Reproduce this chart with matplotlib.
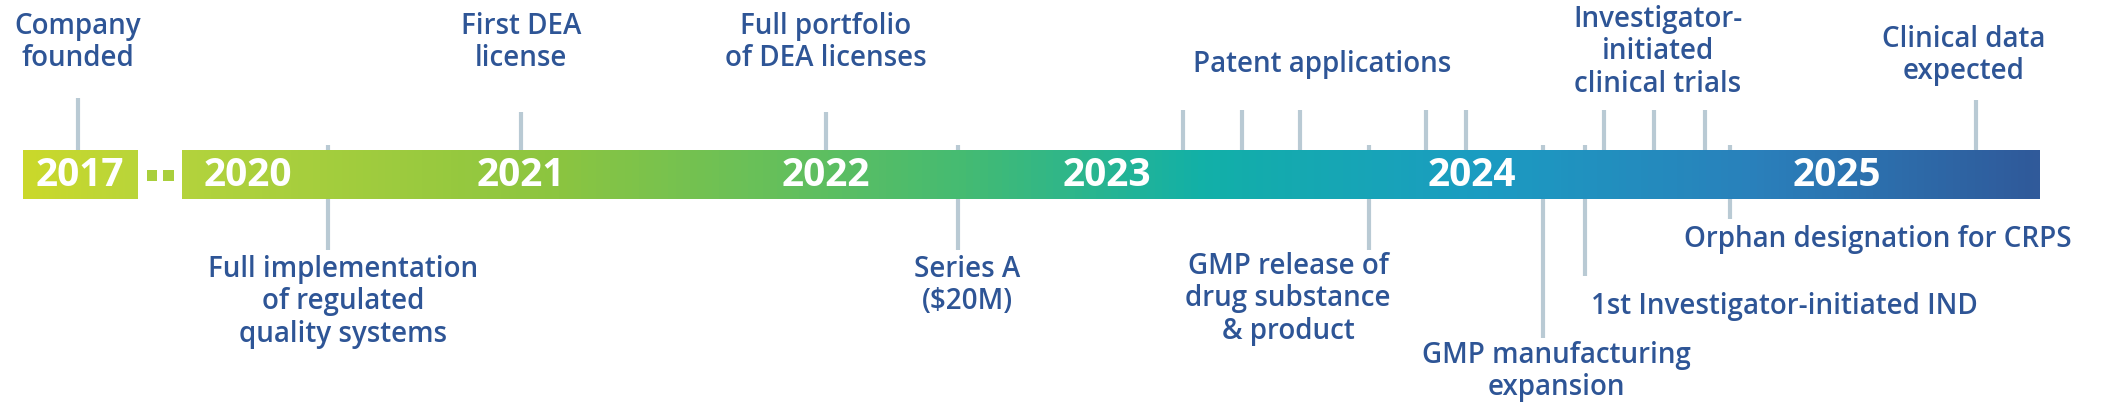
import matplotlib
matplotlib.use("Agg")
import matplotlib.pyplot as plt
import numpy as np
from matplotlib.colors import LinearSegmentedColormap

W, H = 2117, 413
TXT = "#2e5596"
TICK = "#b9cad4"
FONT = "Open Sans"

years = ["2020", "2021", "2022", "2023", "2024", "2025"]
year_x = [248, 521, 826, 1107, 1472, 1837]

# events above the bar: (label lines, tick positions, text center x, first line y, tick top)
above_labels = ["Company\nfounded", "First DEA\nlicense", "Full portfolio\nof DEA licenses",
                "Patent applications", "Investigator-\ninitiated\nclinical trials", "Clinical data\nexpected"]
above_ticks = [[78], [521], [826], [1183, 1242, 1300, 1426, 1466], [1604, 1654, 1705], [1976]]
above_text_x = [78, 521, 826, 1322, 1658, 1964]
above_text_y = [27, 27, 27, 65, 20, 40]
above_tick_top = [98, 112, 112, 110, 110, 100]

below_labels = ["Full implementation\nof regulated\nquality systems", "Series A\n($20M)",
                "GMP release of\ndrug substance\n& product", "GMP manufacturing\nexpansion",
                "1st Investigator-initiated IND", "Orphan designation for CRPS"]
below_ticks = [328, 958, 1369, 1543, 1585, 1730]
below_text_x = [343, 967, 1288, 1556, 1784, 1878]
below_text_y = [270, 270, 267, 356, 307, 240]
below_tick_bot = [250, 250, 250, 338, 276, 219]

fig = plt.figure(figsize=(W / 100, H / 100), dpi=100)
ax = fig.add_axes([0, 0, 1, 1])
ax.set_xlim(0, W)
ax.set_ylim(H, 0)
ax.axis("off")

bar_top, bar_bot = 150, 199
for ticks, top in zip(above_ticks, above_tick_top):
    for t in ticks:
        ax.plot([t, t], [top, 175], color=TICK, lw=3, solid_capstyle="butt", zorder=1)
for t, bot in zip(below_ticks, below_tick_bot):
    ax.plot([t, t], [145, bot], color=TICK, lw=3, solid_capstyle="butt", zorder=1)

cmap = LinearSegmentedColormap.from_list("tl", [
    (0.0, "#b3d33c"), (0.2, "#8cc540"), (0.42, "#45bb72"), (0.55, "#12b0a8"),
    (0.7, "#1b9cc2"), (0.85, "#2a80bb"), (1.0, "#305a9a")])
grad = np.linspace(0, 1, 512).reshape(1, -1)
ax.imshow(grad, cmap=cmap, extent=[182, 2040, bar_bot, bar_top], aspect="auto", zorder=2)
cmap2 = LinearSegmentedColormap.from_list("l", ["#cbd92a", "#b9d53a"])
ax.imshow(grad, cmap=cmap2, extent=[23, 138, bar_bot, bar_top], aspect="auto", zorder=2)
ax.add_patch(plt.Rectangle((147, 170), 10, 11, color="#a9cf3c", zorder=2, lw=0))
ax.add_patch(plt.Rectangle((163, 170), 11, 11, color="#a9cf3c", zorder=2, lw=0))
ax.set_xlim(0, W)
ax.set_ylim(H, 0)

ax.text(80, 175, "2017", color="white", fontsize=28, fontweight="bold", family=FONT,
        ha="center", va="center", zorder=3)
for y, x in zip(years, year_x):
    ax.text(x, 175, y, color="white", fontsize=28, fontweight="bold", family=FONT,
            ha="center", va="center", zorder=3)

for lab, x, y in zip(above_labels, above_text_x, above_text_y):
    ax.text(x, y - 15, lab, color=TXT, fontsize=20, fontweight="semibold", family=FONT,
            ha="center", va="top", linespacing=1.15, zorder=3)
for lab, x, y in zip(below_labels, below_text_x, below_text_y):
    ax.text(x, y - 15, lab, color=TXT, fontsize=20, fontweight="semibold", family=FONT,
            ha="center", va="top", linespacing=1.15, zorder=3)

fig.savefig("out.png", dpi=100)
